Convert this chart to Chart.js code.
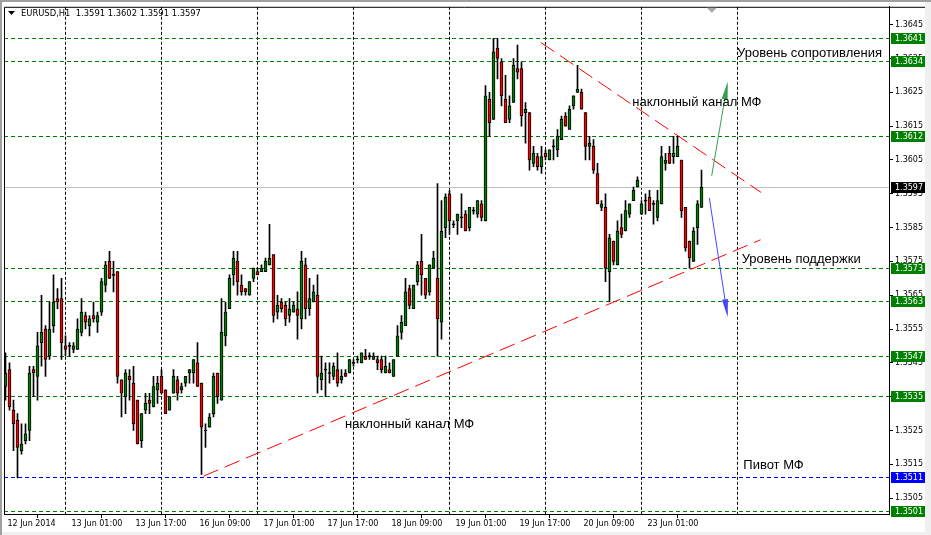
<!DOCTYPE html>
<html><head><meta charset="utf-8">
<style>html,body{margin:0;padding:0;background:#fff;overflow:hidden}canvas{display:block}</style>
<script src="https://cdn.jsdelivr.net/npm/chart.js@4.4.1/dist/chart.umd.min.js"></script>
</head><body>
<canvas id="c" width="931" height="535"></canvas>
<script>
// ---------- DATA ----------
const symbolTitle = 'EURUSD,H1';
const timeLabels = ['12 Jun 2014','13 Jun 01:00','13 Jun 17:00','16 Jun 09:00','17 Jun 01:00','17 Jun 17:00','18 Jun 09:00','19 Jun 01:00','19 Jun 17:00','20 Jun 09:00','23 Jun 01:00'];
const labelBars = [0,16,32,48,64,80,96,112,128,144,160];
const dayBars = [15,39,63,87,111,135,159,183];
const yTicks = [1.3505,1.3515,1.3525,1.3535,1.3545,1.3555,1.3565,1.3575,1.3585,1.3595,1.3605,1.3615,1.3625,1.3635,1.3645];

const opens = [1.3538,1.3543,1.3531,1.3528,1.3519,1.3522,1.3525,1.3543,1.3541,1.3551,1.3555,1.3547,1.3556,1.3564,1.3564,1.3550,1.3550,1.3549,1.3549,1.3554,
1.3559,1.3556,1.3559,1.3557,1.3560,1.3568,1.3575,1.3571,1.3572,1.3540,1.3535,1.3541,1.3539,1.3534,1.3522,1.3531,1.3534,1.3532,1.3537,1.3541,
1.3537,1.3531,1.3536,1.3540,1.3537,1.3539,1.3542,1.3542,1.3545,1.3539,1.3525,1.3526,1.3530,1.3542,1.3534,1.3553,1.3561,1.3571,1.3575,1.3568,
1.3567,1.3565,1.3570,1.3572,1.3572,1.3572,1.3574,1.3577,1.3560,1.3563,1.3562,1.3559,1.3560,1.3561,1.3558,1.3574,1.3561,1.3563,1.3565,1.3540,
1.3543,1.3542,1.3541,1.3543,1.3540,1.3542,1.3542,1.3545,1.3546,1.3545,1.3547,1.3547,1.3546,1.3546,1.3546,1.3542,1.3543,1.3541,1.3547,1.3554,
1.3556,1.3567,1.3561,1.3569,1.3575,1.3570,1.3566,1.3573,1.3570,1.3557,1.3585,1.3595,1.3586,1.3587,1.3588,1.3589,1.3585,1.3590,1.3589,1.3592,
1.3587,1.3623,1.3617,1.3638,1.3634,1.3623,1.3617,1.3622,1.3632,1.3632,1.3619,1.3619,1.3604,1.3606,1.3603,1.3607,1.3605,1.3609,1.3608,1.3611,
1.3618,1.3614,1.3621,1.3625,1.3625,1.3619,1.3609,1.3609,1.3601,1.3591,1.3591,1.3572,1.3581,1.3574,1.3585,1.3584,1.3589,1.3593,1.3597,1.3589,
1.3593,1.3594,1.3592,1.3588,1.3592,1.3604,1.3607,1.3606,1.3606,1.3605,1.3591,1.3581,1.3575,1.3585,1.3591];
const highs = [1.3548,1.3545,1.3534,1.3530,1.3527,1.3527,1.3544,1.3544,1.3554,1.3565,1.3556,1.3563,1.3571,1.3567,1.3570,1.3553,1.3551,1.3551,1.3558,1.3564,
1.3560,1.3559,1.3563,1.3560,1.3570,1.3575,1.3578,1.3575,1.3572,1.3540,1.3543,1.3543,1.3544,1.3534,1.3530,1.3536,1.3536,1.3541,1.3541,1.3543,
1.3537,1.3535,1.3543,1.3541,1.3539,1.3541,1.3543,1.3546,1.3551,1.3539,1.3527,1.3530,1.3542,1.3542,1.3564,1.3563,1.3571,1.3578,1.3578,1.3571,
1.3567,1.3569,1.3573,1.3573,1.3574,1.3576,1.3586,1.3577,1.3565,1.3564,1.3563,1.3564,1.3563,1.3566,1.3578,1.3576,1.3570,1.3568,1.3571,1.3547,
1.3545,1.3545,1.3545,1.3548,1.3543,1.3543,1.3546,1.3546,1.3547,1.3548,1.3549,1.3548,1.3548,1.3547,1.3547,1.3547,1.3545,1.3546,1.3556,1.3559,
1.3570,1.3568,1.3568,1.3575,1.3583,1.3570,1.3574,1.3578,1.3598,1.3593,1.3595,1.3596,1.3587,1.3589,1.3595,1.3590,1.3591,1.3591,1.3593,1.3593,
1.3627,1.3625,1.3641,1.3641,1.3635,1.3630,1.3624,1.3635,1.3639,1.3634,1.3622,1.3619,1.3609,1.3607,1.3609,1.3608,1.3608,1.3611,1.3614,1.3618,
1.3619,1.3621,1.3624,1.3633,1.3626,1.3619,1.3612,1.3611,1.3604,1.3593,1.3595,1.3583,1.3581,1.3587,1.3589,1.3593,1.3592,1.3597,1.3600,1.3593,
1.3595,1.3596,1.3593,1.3596,1.3609,1.3607,1.3609,1.3612,1.3612,1.3605,1.3591,1.3581,1.3585,1.3593,1.3602];
const lows = [1.3534,1.3531,1.3519,1.3511,1.3518,1.3521,1.3522,1.3535,1.3534,1.3544,1.3541,1.3546,1.3554,1.3561,1.3546,1.3547,1.3547,1.3548,1.3549,1.3553,
1.3555,1.3553,1.3557,1.3554,1.3559,1.3566,1.3570,1.3566,1.3539,1.3529,1.3530,1.3534,1.3525,1.3521,1.3520,1.3530,1.3530,1.3532,1.3533,1.3536,
1.3530,1.3531,1.3536,1.3534,1.3536,1.3538,1.3539,1.3539,1.3538,1.3512,1.3520,1.3526,1.3529,1.3533,1.3534,1.3550,1.3561,1.3568,1.3565,1.3565,
1.3565,1.3565,1.3569,1.3571,1.3572,1.3572,1.3574,1.3557,1.3558,1.3560,1.3556,1.3557,1.3560,1.3552,1.3555,1.3558,1.3559,1.3563,1.3536,1.3537,
1.3535,1.3539,1.3540,1.3538,1.3539,1.3541,1.3542,1.3544,1.3545,1.3545,1.3546,1.3546,1.3546,1.3543,1.3542,1.3542,1.3542,1.3541,1.3547,1.3552,
1.3556,1.3561,1.3561,1.3568,1.3565,1.3564,1.3565,1.3573,1.3547,1.3552,1.3582,1.3583,1.3585,1.3583,1.3585,1.3584,1.3584,1.3589,1.3588,1.3587,
1.3587,1.3612,1.3617,1.3629,1.3621,1.3616,1.3616,1.3622,1.3629,1.3615,1.3610,1.3602,1.3603,1.3602,1.3601,1.3605,1.3605,1.3605,1.3606,1.3611,
1.3615,1.3614,1.3620,1.3625,1.3620,1.3605,1.3605,1.3601,1.3592,1.3590,1.3569,1.3563,1.3574,1.3574,1.3582,1.3584,1.3588,1.3593,1.3597,1.3589,
1.3589,1.3590,1.3586,1.3587,1.3592,1.3602,1.3604,1.3604,1.3606,1.3588,1.3578,1.3573,1.3575,1.3580,1.3591];
const closes = [1.3542,1.3532,1.3527,1.3520,1.3521,1.3524,1.3542,1.3542,1.3550,1.3554,1.3546,1.3555,1.3563,1.3563,1.3551,1.3549,1.3550,1.3550,1.3555,1.3560,
1.3557,1.3558,1.3558,1.3559,1.3569,1.3574,1.3570,1.3571,1.3541,1.3536,1.3542,1.3540,1.3527,1.3521,1.3530,1.3533,1.3533,1.3538,1.3539,1.3536,
1.3530,1.3535,1.3541,1.3536,1.3538,1.3541,1.3543,1.3546,1.3538,1.3526,1.3525,1.3529,1.3541,1.3535,1.3554,1.3560,1.3570,1.3576,1.3569,1.3566,
1.3566,1.3569,1.3573,1.3571,1.3573,1.3575,1.3576,1.3559,1.3562,1.3561,1.3558,1.3561,1.3562,1.3559,1.3575,1.3561,1.3564,1.3566,1.3541,1.3542,
1.3543,1.3542,1.3544,1.3539,1.3541,1.3541,1.3546,1.3545,1.3546,1.3548,1.3546,1.3547,1.3547,1.3545,1.3543,1.3544,1.3542,1.3546,1.3553,1.3557,
1.3566,1.3562,1.3568,1.3574,1.3571,1.3565,1.3574,1.3576,1.3558,1.3584,1.3594,1.3587,1.3586,1.3589,1.3588,1.3584,1.3591,1.3590,1.3593,1.3588,
1.3624,1.3616,1.3637,1.3635,1.3624,1.3616,1.3621,1.3633,1.3631,1.3618,1.3620,1.3605,1.3607,1.3603,1.3606,1.3606,1.3608,1.3609,1.3612,1.3617,
1.3615,1.3620,1.3624,1.3626,1.3620,1.3609,1.3610,1.3602,1.3592,1.3592,1.3573,1.3582,1.3575,1.3584,1.3583,1.3590,1.3592,1.3596,1.3599,1.3592,
1.3593,1.3590,1.3592,1.3593,1.3606,1.3605,1.3604,1.3607,1.3609,1.3590,1.3579,1.3576,1.3584,1.3592,1.3597];

const levelPrices = [1.3641,1.3634,1.3612,1.3573,1.3563,1.3547,1.3535,1.3501];
const pivotPrice = 1.3511;
const bidPrice = 1.3597;

// ---------- drawn objects (bar index, price) ----------
const trendLines = [
  {x1:49.5, p1:1.35115, x2:188.75, p2:1.35814},
  {x1:133.9, p1:1.36397, x2:188.9, p2:1.35954}
];
const arrows = [
  {x1:176.55, p1:1.36003, x2:180.55, p2:1.36282, color:'#35a055'},
  {x1:175.95, p1:1.35938, x2:180.55, p2:1.35585, color:'#4646ff'}
];
const notes = [
  {text:'Уровень сопротивления', x:182.9, p:1.36354},
  {text:'наклонный канал МФ', x:156.7, p:1.36211},
  {text:'наклонный канал МФ', x:84.9, p:1.35258},
  {text:'Уровень поддержки', x:184.05, p:1.35745},
  {text:'Пивот МФ', x:184.45, p:1.35135}
];

// ---------- build ----------
const idx = opens.map((_, i) => i);
const wickData = idx.map(i => ({x: i, y: [lows[i], highs[i]]}));
const bodyData = idx.map(i => {
  let lo = Math.min(opens[i], closes[i]), hi = Math.max(opens[i], closes[i]);
  if (hi - lo < 1e-9) { lo -= 0.000015; hi += 0.000015; }
  return {x: i, y: [lo, hi]};
});
const bodyColors = idx.map(i => closes[i] > opens[i] ? '#008000' : (closes[i] < opens[i] ? '#ff0000' : '#000000'));

const TICK_FONT = {family: "'DejaVu Sans'", size: 8};

const mt = {
  id: 'mt',
  beforeDatasetsDraw(chart) {
    const {ctx, chartArea: a, scales: {x, y}} = chart;
    ctx.save();
    ctx.beginPath(); ctx.rect(a.left, a.top, a.right - a.left, a.bottom - a.top); ctx.clip();
    ctx.lineWidth = 1;
    ctx.strokeStyle = '#000'; ctx.setLineDash([3, 2]);
    for (const g of dayBars) {
      const px = Math.floor(x.getPixelForValue(g)) + 0.5;
      ctx.beginPath(); ctx.moveTo(px, a.top); ctx.lineTo(px, a.bottom); ctx.stroke();
    }
    const hline = (v, color, dash) => {
      const py = Math.floor(y.getPixelForValue(v)) + 0.5;
      ctx.strokeStyle = color; ctx.setLineDash(dash);
      ctx.beginPath(); ctx.moveTo(a.left, py); ctx.lineTo(a.right, py); ctx.stroke();
    };
    hline(bidPrice, '#c0c0c0', []);
    levelPrices.forEach(v => hline(v, '#008000', [4, 3]));
    hline(pivotPrice, '#0000ff', [4, 3]);
    ctx.strokeStyle = '#ff0000'; ctx.setLineDash([16, 7]);
    for (const t of trendLines) {
      ctx.beginPath();
      ctx.moveTo(x.getPixelForValue(t.x1), y.getPixelForValue(t.p1));
      ctx.lineTo(x.getPixelForValue(t.x2), y.getPixelForValue(t.p2));
      ctx.stroke();
    }
    ctx.restore();
  },
  afterDatasetsDraw(chart) {
    const {ctx, chartArea: a, scales: {x, y}} = chart;
    ctx.save();
    ctx.setLineDash([]);
    for (const ar of arrows) {
      const x1 = x.getPixelForValue(ar.x1), y1 = y.getPixelForValue(ar.p1);
      const x2 = x.getPixelForValue(ar.x2), y2 = y.getPixelForValue(ar.p2);
      const ang = Math.atan2(y2 - y1, x2 - x1);
      const L = 18, W = 3;
      ctx.strokeStyle = ar.color; ctx.fillStyle = ar.color; ctx.lineWidth = 1;
      ctx.beginPath(); ctx.moveTo(x1, y1); ctx.lineTo(x2 - Math.cos(ang) * 4, y2 - Math.sin(ang) * 4); ctx.stroke();
      const bx = x2 - Math.cos(ang) * L, by = y2 - Math.sin(ang) * L;
      ctx.beginPath();
      ctx.moveTo(x2, y2);
      ctx.lineTo(bx + Math.sin(ang) * W, by - Math.cos(ang) * W);
      ctx.lineTo(bx - Math.sin(ang) * W, by + Math.cos(ang) * W);
      ctx.closePath(); ctx.fill();
    }
    ctx.fillStyle = '#000';
    ctx.font = "13px 'Liberation Sans'";
    ctx.textBaseline = 'alphabetic'; ctx.textAlign = 'left';
    for (const n of notes) ctx.fillText(n.text, x.getPixelForValue(n.x), y.getPixelForValue(n.p));
    ctx.restore();
  },
  afterDraw(chart) {
    const {ctx, chartArea: a, scales: {x, y}} = chart;
    ctx.save();
    // frame
    ctx.strokeStyle = '#000'; ctx.lineWidth = 1; ctx.setLineDash([]);
    ctx.beginPath();
    ctx.moveTo(a.left + 0.5, a.bottom); ctx.lineTo(a.left + 0.5, a.top + 0.5); ctx.lineTo(925, a.top + 0.5);
    ctx.stroke();
    // price labels on axis
    ctx.font = "8px 'DejaVu Sans'"; ctx.textBaseline = 'middle'; ctx.textAlign = 'left';
    const box = (v, bg, fg) => {
      const py = Math.floor(y.getPixelForValue(v)) + 0.5;
      ctx.fillStyle = bg; ctx.fillRect(a.right + 2, Math.floor(py) - 5, 34, 11);
      ctx.fillStyle = fg; ctx.fillText(v.toFixed(4), a.right + 6, py + 0.5);
    };
    levelPrices.forEach(v => box(v, '#008000', '#ffffff'));
    box(pivotPrice, '#0000ff', '#ffffff');
    box(bidPrice, '#000000', '#ffffff');
    // header
    ctx.fillStyle = '#000';
    ctx.beginPath(); ctx.moveTo(8, 11); ctx.lineTo(15, 11); ctx.lineTo(11.5, 15); ctx.closePath(); ctx.fill();
    ctx.font = "8.4px 'DejaVu Sans'"; ctx.textBaseline = 'alphabetic';
    const last = opens.length - 1;
    ctx.fillText(symbolTitle + '  ' + opens[last].toFixed(4) + ' ' + highs[last].toFixed(4) + ' ' + lows[last].toFixed(4) + ' ' + closes[last].toFixed(4), 21, 15.5);
    // chart shift marker
    const sx = x.getPixelForValue(176.6);
    ctx.fillStyle = '#a8a8a8';
    ctx.beginPath(); ctx.moveTo(sx - 5, a.top + 1); ctx.lineTo(sx + 5, a.top + 1); ctx.lineTo(sx, a.top + 6); ctx.closePath(); ctx.fill();
    // window edges
    ctx.fillStyle = '#a0a0a0'; ctx.fillRect(0, 0, 931, 2); ctx.fillRect(0, 0, 2, 535);
    ctx.fillStyle = '#f0f0f0'; ctx.fillRect(925, 2, 6, 533); ctx.fillRect(2, 532, 929, 3);
    ctx.restore();
  }
};

new Chart(document.getElementById('c'), {
  type: 'bar',
  data: {
    datasets: [
      {data: bodyData, backgroundColor: bodyColors, borderColor: '#000', borderWidth: 1, borderSkipped: false, barThickness: 3, grouped: false, order: 0},
      {data: wickData, backgroundColor: '#000', borderWidth: 0, barThickness: 1, grouped: false, order: 1}
    ]
  },
  options: {
    responsive: false, animation: false, devicePixelRatio: 1,
    layout: {padding: {left: 4, top: 4, right: 0, bottom: 0}},
    plugins: {legend: {display: false}, tooltip: {enabled: false}},
    scales: {
      x: {
        type: 'linear', offset: false, min: -0.375, max: 220.875,
        afterBuildTicks: s => { s.ticks = labelBars.map(v => ({value: v})); },
        afterFit: s => { s.height = 21; },
        ticks: {autoSkip: false, maxRotation: 0, align: 'start', labelOffset: 2, padding: 1, color: '#000', font: TICK_FONT,
          callback: v => timeLabels[labelBars.indexOf(v)]},
        grid: {drawOnChartArea: false, drawTicks: true, tickLength: 4, color: '#000'},
        border: {display: true, color: '#000'}
      },
      y: {
        type: 'linear', position: 'right', min: 1.35003, max: 1.36503,
        afterBuildTicks: s => { s.ticks = yTicks.map(v => ({value: v})); },
        afterFit: s => { s.width = 42; },
        ticks: {padding: 2, color: '#000', font: TICK_FONT, callback: v => v.toFixed(4)},
        grid: {drawOnChartArea: false, drawTicks: true, tickLength: 4, color: '#000'},
        border: {display: true, color: '#000'}
      }
    }
  },
  plugins: [mt]
});
</script>
</body></html>
